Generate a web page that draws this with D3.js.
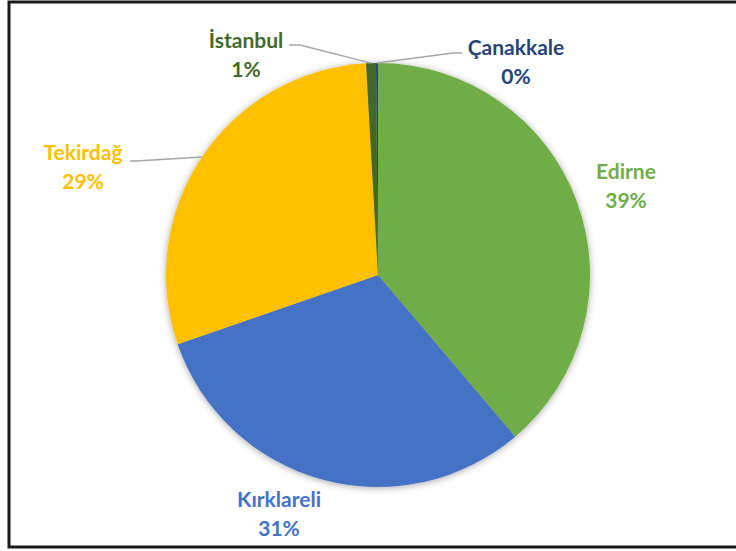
<!DOCTYPE html>
<html>
<head>
<meta charset="utf-8">
<script src="https://cdn.jsdelivr.net/npm/d3@7"></script>
<style>
  html, body { margin: 0; padding: 0; background: #fff; }
  svg { display: block; }
  text { font-family: Lato, "Open Sans", sans-serif; font-weight: 700; }
</style>
</head>
<body>
<svg id="chart" width="736" height="551"></svg>
<script>
// Province shares (percent), in drawing order clockwise from 12 o'clock
const provinces = ["Edirne", "Kırklareli", "Tekirdağ", "İstanbul", "Çanakkale"];
const shares = [38.8, 30.9, 29.4, 0.75, 0.15];
const sliceColors = ["#70AD47", "#4472C4", "#FFC000", "#43682B", "#264478"];

// Label placement (label block centre, first baseline) and leader elbows
const labelLayout = {
  "Edirne":     { x: 626, y: 179 },
  "Kırklareli": { x: 279, y: 507 },
  "Tekirdağ":   { x: 83,  y: 160 },
  "İstanbul":   { x: 246, y: 48 },
  "Çanakkale":  { x: 516, y: 55 }
};
const leaderStart = {
  "Tekirdağ":  [[130, 161], [136, 161]],
  "İstanbul":  [[289, 45], [300, 45]],
  "Çanakkale": [[462, 53], [453, 53]]
};

const W = 736, H = 551;
const cx = 378, cy = 275, R = 212;

const svg = d3.select("#chart");

// Frame
svg.append("rect")
  .attr("x", 9).attr("y", 2)
  .attr("width", W + 20).attr("height", 545)
  .attr("fill", "#fff")
  .attr("stroke", "#1a1a1a")
  .attr("stroke-width", 3);

// Soft shadow around the pie
const defs = svg.append("defs");
const f = defs.append("filter").attr("id", "pieShadow")
  .attr("x", "-20%").attr("y", "-20%").attr("width", "140%").attr("height", "140%");
f.append("feDropShadow")
  .attr("dx", 0).attr("dy", 1)
  .attr("stdDeviation", 3.5)
  .attr("flood-color", "#000")
  .attr("flood-opacity", 0.35);

const data = provinces.map((name, i) => ({ name, value: shares[i], color: sliceColors[i] }));
const total = d3.sum(shares);

const pie = d3.pie().value(d => d.value).sort(null);
const arcs = pie(data);
const arc = d3.arc().innerRadius(0).outerRadius(R);

const g = svg.append("g").attr("transform", `translate(${cx},${cy})`);

g.append("g").attr("filter", "url(#pieShadow)")
  .selectAll("path")
  .data(arcs)
  .join("path")
  .attr("d", arc)
  .attr("fill", d => d.data.color);

// Leader lines from label to the slice edge midpoint
arcs.forEach(a => {
  const start = leaderStart[a.data.name];
  if (!start) return;
  const mid = (a.startAngle + a.endAngle) / 2;
  const end = [cx + R * Math.sin(mid), cy - R * Math.cos(mid)];
  const pts = start.concat([end]);
  svg.append("polyline")
    .attr("points", pts.map(p => p.join(",")).join(" "))
    .attr("fill", "none")
    .attr("stroke", "#A6A6A6")
    .attr("stroke-width", 1.5);
});

// Labels: name and rounded percentage
arcs.forEach(a => {
  const pos = labelLayout[a.data.name];
  const pct = Math.round(a.data.value / total * 100) + "%";
  const t = svg.append("text")
    .attr("x", pos.x).attr("y", pos.y)
    .attr("text-anchor", "middle")
    .attr("fill", a.data.color)
    .style("font-size", "21px");
  t.append("tspan").attr("x", pos.x).text(a.data.name);
  t.append("tspan").attr("x", pos.x).attr("dy", 28.5).text(pct);
});
</script>
</body>
</html>
